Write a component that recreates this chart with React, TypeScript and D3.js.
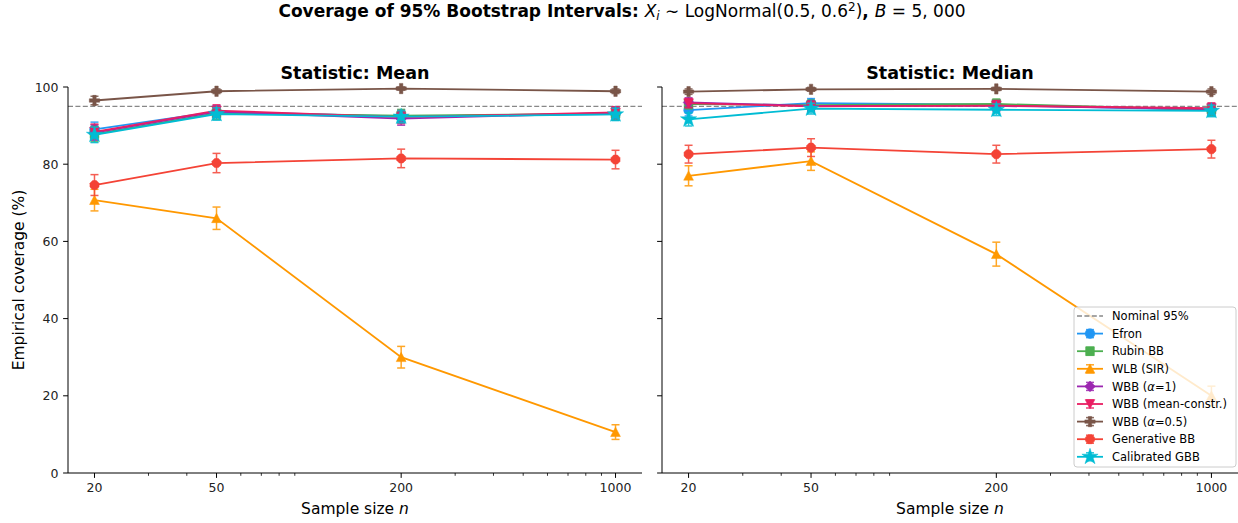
import React from 'react';
import * as d3 from 'd3';

// ---------- data ----------
const sampleSizes = [20, 50, 200, 1000];
const xTickLabels = ['20', '50', '200', '1000'];
const minorTickValues = [30, 40, 60, 70, 80, 90, 300, 400, 500, 600, 700, 800, 900];
const yTickValues = [0, 20, 40, 60, 80, 100];
const nominalLevel = 95;
const panelTitles = ['Statistic: Mean', 'Statistic: Median'];

const methodNames = ['Efron', 'Rubin BB', 'WLB (SIR)', 'WBB (α=1)', 'WBB (mean-constr.)', 'WBB (α=0.5)', 'Generative BB', 'Calibrated GBB'];
const methodColors = ['#2196F3', '#4CAF50', '#FF9800', '#9C27B0', '#E91E63', '#795548', '#F44336', '#00BCD4'];
const methodMarkers = ['circle', 'square', 'triangle', 'diamond', 'triangleDown', 'plus', 'octagon', 'star'];

// Mean statistic: coverage (%) and error half-widths
const meanEfron = [89.0, 93.6, 92.4, 93.0];
const meanRubin = [87.8, 93.2, 92.6, 93.1];
const meanWLB = [70.7, 66.0, 30.0, 10.6];
const meanWBB1 = [88.2, 93.6, 91.8, 93.3];
const meanWBBmc = [88.4, 93.9, 92.2, 93.4];
const meanWBB05 = [96.5, 98.9, 99.6, 98.9];
const meanGenBB = [74.6, 80.3, 81.5, 81.2];
const meanCalGBB = [87.6, 93.0, 92.3, 92.9];

const meanEfronErr = [1.9, 1.5, 1.6, 1.6];
const meanRubinErr = [2.0, 1.6, 1.6, 1.6];
const meanWLBErr = [2.8, 2.9, 2.8, 1.9];
const meanWBB1Err = [2.0, 1.5, 1.7, 1.5];
const meanWBBmcErr = [2.0, 1.5, 1.7, 1.5];
const meanWBB05Err = [1.1, 0.6, 0.4, 0.6];
const meanGenBBErr = [2.7, 2.5, 2.4, 2.4];
const meanCalGBBErr = [2.0, 1.6, 1.6, 1.6];

// Median statistic
const medEfron = [94.0, 95.8, 95.4, 94.0];
const medRubin = [95.6, 95.3, 95.6, 94.1];
const medWLB = [77.0, 80.8, 56.7, 20.0];
const medWBB1 = [96.0, 95.1, 95.1, 94.3];
const medWBBmc = [95.8, 95.0, 95.2, 94.5];
const medWBB05 = [98.8, 99.4, 99.5, 98.8];
const medGenBB = [82.6, 84.3, 82.6, 83.9];
const medCalGBB = [91.6, 94.4, 94.1, 93.8];

const medEfronErr = [1.5, 1.2, 1.3, 1.5];
const medRubinErr = [1.3, 1.3, 1.3, 1.5];
const medWLBErr = [2.6, 2.4, 3.1, 2.5];
const medWBB1Err = [1.2, 1.3, 1.3, 1.4];
const medWBBmcErr = [1.2, 1.3, 1.3, 1.4];
const medWBB05Err = [0.7, 0.5, 0.4, 0.7];
const medGenBBErr = [2.3, 2.3, 2.3, 2.3];
const medCalGBBErr = [1.7, 1.4, 1.5, 1.5];

const meanValues = [meanEfron, meanRubin, meanWLB, meanWBB1, meanWBBmc, meanWBB05, meanGenBB, meanCalGBB];
const meanErrors = [meanEfronErr, meanRubinErr, meanWLBErr, meanWBB1Err, meanWBBmcErr, meanWBB05Err, meanGenBBErr, meanCalGBBErr];
const medValues = [medEfron, medRubin, medWLB, medWBB1, medWBBmc, medWBB05, medGenBB, medCalGBB];
const medErrors = [medEfronErr, medRubinErr, medWLBErr, medWBB1Err, medWBBmcErr, medWBB05Err, medGenBBErr, medCalGBBErr];

// ---------- layout ----------
const W = 1238;
const H = 523;
const FONT = '"DejaVu Sans", Verdana, sans-serif';
const panels = [
  { x0: 68, x1: 642, values: meanValues, errors: meanErrors, ylabels: true },
  { x0: 662, x1: 1238, values: medValues, errors: medErrors, ylabels: false },
];
const yTop = 87;
const yBot = 473;
const XPAD = 1.22;

function markerPath(kind: string, r: number): string {
  switch (kind) {
    case 'circle':
      return d3.symbol(d3.symbolCircle, Math.PI * r * r)() as string;
    case 'square': {
      const s = r * 0.9;
      return `M${-s},${-s}H${s}V${s}H${-s}Z`;
    }
    case 'triangle':
      return `M0,${-r}L${r},${r * 0.9}L${-r},${r * 0.9}Z`;
    case 'triangleDown':
      return `M0,${r}L${r},${-r * 0.9}L${-r},${-r * 0.9}Z`;
    case 'diamond': {
      const s = r * 1.1;
      return `M0,${-s}L${s},0L0,${s}L${-s},0Z`;
    }
    case 'plus': {
      const a = r * 1.05;
      const b = a / 3;
      return `M${-b},${-a}H${b}V${-b}H${a}V${b}H${b}V${a}H${-b}V${b}H${-a}V${-b}H${-b}Z`;
    }
    case 'octagon': {
      const pts = d3.range(8).map((i) => {
        const ang = Math.PI / 8 + (i * Math.PI) / 4;
        return [r * Math.cos(ang), r * Math.sin(ang)];
      });
      return 'M' + pts.map((p) => p.join(',')).join('L') + 'Z';
    }
    case 'star':
      return d3.symbol(d3.symbolStar, r * r * 3.4)() as string;
    default:
      return '';
  }
}

const MR = 4.9;
const CAP = 4;

function Panel({ idx }: { idx: number }) {
  const p = panels[idx];
  const x = d3.scaleLog().domain([20 / XPAD, 1000 * XPAD]).range([p.x0, p.x1]);
  const y = d3.scaleLinear().domain([0, 100]).range([yBot, yTop]);
  const line = d3
    .line<number>()
    .x((_, i) => x(sampleSizes[i]))
    .y((d) => y(d));
  const cx = (p.x0 + p.x1) / 2;
  return (
    <g>
      {/* nominal line */}
      <line x1={p.x0} x2={p.x1} y1={y(nominalLevel)} y2={y(nominalLevel)} stroke="#888" strokeWidth={1.3} strokeDasharray="5,2.4" />
      {p.values.map((vals, m) => {
        const col = methodColors[m];
        const errs = p.errors[m];
        return (
          <g key={m}>
            <path d={line(vals) as string} fill="none" stroke={col} strokeWidth={1.8} />
            {vals.map((v, i) => {
              const px = x(sampleSizes[i]);
              const lo = y(v - errs[i]);
              const hi = y(v + errs[i]);
              return (
                <g key={i} stroke={col} strokeWidth={1.5} opacity={0.85}>
                  <line x1={px} x2={px} y1={lo} y2={hi} />
                  <line x1={px - CAP} x2={px + CAP} y1={lo} y2={lo} />
                  <line x1={px - CAP} x2={px + CAP} y1={hi} y2={hi} />
                </g>
              );
            })}
            {vals.map((v, i) => (
              <path key={'m' + i} d={markerPath(methodMarkers[m], MR)} transform={`translate(${x(sampleSizes[i])},${y(v)})`} fill={col} stroke={col} strokeWidth={0.5} />
            ))}
          </g>
        );
      })}
      {/* spines */}
      <line x1={p.x0} x2={p.x0} y1={yTop} y2={yBot} stroke="#000" strokeWidth={1} />
      <line x1={p.x0} x2={p.x1} y1={yBot} y2={yBot} stroke="#000" strokeWidth={1} />
      {/* y ticks */}
      {yTickValues.map((t) => (
        <g key={'y' + t}>
          <line x1={p.x0 - 4.9} x2={p.x0} y1={y(t)} y2={y(t)} stroke="#000" strokeWidth={1} />
          {p.ylabels && (
            <text x={p.x0 - 9.5} y={y(t)} dy="0.36em" textAnchor="end" fontSize={12.5} fill="#222">
              {t}
            </text>
          )}
        </g>
      ))}
      {/* x ticks */}
      {sampleSizes.map((t, i) => (
        <g key={'x' + t}>
          <line x1={x(t)} x2={x(t)} y1={yBot} y2={yBot + 4.9} stroke="#000" strokeWidth={1} />
          <text x={x(t)} y={yBot + 19} textAnchor="middle" fontSize={12.5} fill="#222">
            {xTickLabels[i]}
          </text>
        </g>
      ))}
      {minorTickValues.map((t) => (
        <line key={'mn' + t} x1={x(t)} x2={x(t)} y1={yBot} y2={yBot + 2.8} stroke="#000" strokeWidth={0.8} />
      ))}
      {/* labels */}
      <text x={cx} y={79} textAnchor="middle" fontSize={17.5} fontWeight="bold" fill="#000">
        {panelTitles[idx]}
      </text>
      <text x={idx === 0 ? cx : 950} y={514} textAnchor="middle" fontSize={15.5} fill="#000">
        {'Sample size '}
        <tspan fontStyle="italic">n</tspan>
      </text>
    </g>
  );
}

function LegendLabel({ name }: { name: string }) {
  const k = name.indexOf('α');
  if (k < 0) return <>{name}</>;
  return (
    <>
      {name.slice(0, k)}
      <tspan fontStyle="italic">α</tspan>
      {name.slice(k + 1)}
    </>
  );
}

function Legend() {
  const lx = 1074;
  const ly = 307;
  const lw = 162;
  const lh = 160;
  const row0 = 316;
  const dy = 17.6;
  const hx0 = 1077;
  const hx1 = 1103;
  const hc = (hx0 + hx1) / 2;
  const tx = 1112;
  return (
    <g fontSize={11.5}>
      <rect x={lx} y={ly} width={lw} height={lh} rx={3} fill="#fff" fillOpacity={0.8} stroke="#ccc" strokeWidth={1} />
      <line x1={hx0} x2={hx1} y1={row0} y2={row0} stroke="#888" strokeWidth={1.3} strokeDasharray="5,2.4" />
      <text x={tx} y={row0} dy="0.36em" fill="#000">Nominal 95%</text>
      {methodNames.map((nm, m) => {
        const ry = row0 + dy * (m + 1);
        const col = methodColors[m];
        return (
          <g key={nm}>
            <line x1={hx0} x2={hx1} y1={ry} y2={ry} stroke={col} strokeWidth={1.8} />
            <g stroke={col} strokeWidth={1.5} opacity={0.85}>
              <line x1={hc} x2={hc} y1={ry - 4} y2={ry + 4} />
              <line x1={hc - CAP} x2={hc + CAP} y1={ry - 4} y2={ry - 4} />
              <line x1={hc - CAP} x2={hc + CAP} y1={ry + 4} y2={ry + 4} />
            </g>
            <path d={markerPath(methodMarkers[m], MR)} transform={`translate(${hc},${ry})`} fill={col} stroke={col} strokeWidth={0.5} />
            <text x={tx} y={ry} dy="0.36em" fill="#000">
              <LegendLabel name={nm} />
            </text>
          </g>
        );
      })}
    </g>
  );
}

export default function App() {
  return (
    <svg width={W} height={H} style={{ position: 'absolute', left: 0, top: 0, background: '#fff' }} fontFamily={FONT}>
      <rect x={0} y={0} width={W} height={H} fill="#fff" />
      <text x={622} y={17} textAnchor="middle" fontSize={17} fill="#000">
        <tspan fontWeight="bold">{'Coverage of 95% Bootstrap Intervals: '}</tspan>
        <tspan fontStyle="italic">X</tspan>
        <tspan fontStyle="italic" fontSize={12} dy={3}>i</tspan>
        <tspan dy={-3}>{' ∼ LogNormal(0.5,  0.6'}</tspan>
        <tspan fontSize={12} dy={-6}>2</tspan>
        <tspan dy={6}>)</tspan>
        <tspan fontWeight="bold">{', '}</tspan>
        <tspan fontStyle="italic">B</tspan>
        <tspan>{' = 5, 000'}</tspan>
      </text>
      <text transform={`translate(24,${(yTop + yBot) / 2}) rotate(-90)`} textAnchor="middle" fontSize={15.5} fill="#000">
        Empirical coverage (%)
      </text>
      <Panel idx={0} />
      <Panel idx={1} />
      <Legend />
    </svg>
  );
}
